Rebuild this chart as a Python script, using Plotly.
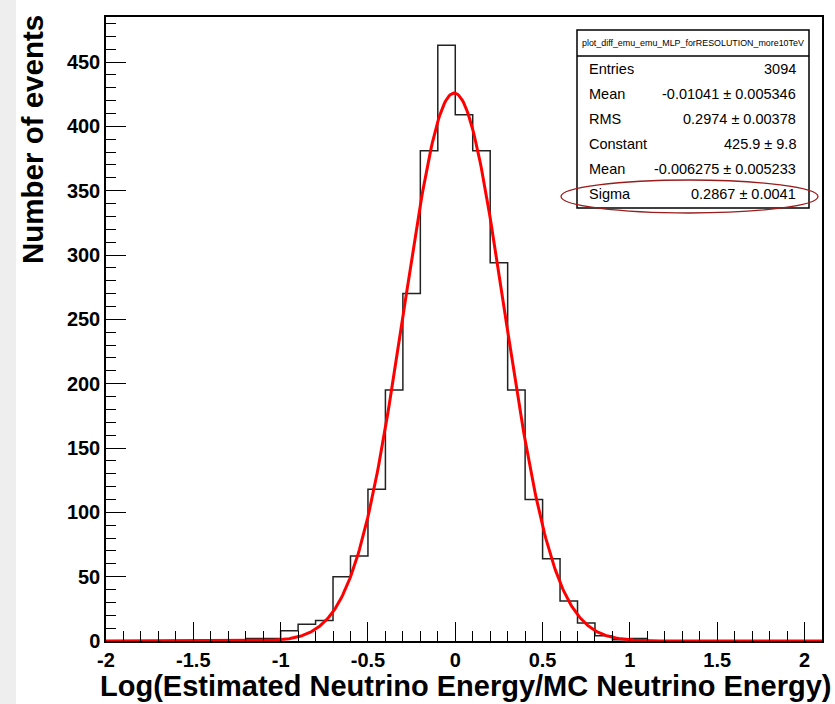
import numpy as np
import plotly.graph_objects as go

# ---- data ----
hist_xmin = -2.0
hist_xmax = 2.1
bin_width = 0.1
# lower bin edges of the non-empty bins and their counts
bin_low = [-1.2, -1.1, -1.0, -0.9, -0.8, -0.7, -0.6, -0.5, -0.4, -0.3, -0.2, -0.1,
           0.0, 0.1, 0.2, 0.3, 0.4, 0.5, 0.6, 0.7, 0.8, 0.9, 1.0]
counts = [2, 2, 8, 13, 16, 50, 66, 118, 195, 270, 381, 463,
          409, 381, 294, 195, 110, 64, 31, 14, 4, 1, 2]

# Gaussian fit parameters (from the stats box)
fit_const = 425.9
fit_mean = -0.006275
fit_sigma = 0.2867

x_tick_vals = [-2, -1.5, -1, -0.5, 0, 0.5, 1, 1.5, 2]
x_tick_text = ["-2", "-1.5", "-1", "-0.5", "0", "0.5", "1", "1.5", "2"]
y_tick_vals = [0, 50, 100, 150, 200, 250, 300, 350, 400, 450]
y_tick_text = ["0", "50", "100", "150", "200", "250", "300", "350", "400", "450"]

stats_title = "plot_diff_emu_emu_MLP_forRESOLUTION_more10TeV"
stats_labels = ["Entries", "Mean", "RMS", "Constant", "Mean", "Sigma"]
stats_values = ["3094", "-0.01041 \u00b1 0.005346", "0.2974 \u00b1 0.00378",
                "425.9 \u00b1 9.8", "-0.006275 \u00b1 0.005233", "0.2867 \u00b1 0.0041"]

x_title = "Log(Estimated Neutrino Energy/MC Neutrino Energy)"
y_title = "Number of events"

# ---- build full histogram ----
nbins = int(round((hist_xmax - hist_xmin) / bin_width))
edges = [round(hist_xmin + i * bin_width, 4) for i in range(nbins + 1)]
full = [0] * nbins
for lo, c in zip(bin_low, counts):
    idx = int(round((lo - hist_xmin) / bin_width))
    full[idx] = c
step_x = edges
step_y = full + [full[-1]]

fx = np.linspace(hist_xmin, hist_xmax, 600)
fy = fit_const * np.exp(-0.5 * ((fx - fit_mean) / fit_sigma) ** 2)

# ---- layout geometry (pixels) ----
W, H = 835, 704
L, R, T, B = 106, 13, 17, 63
PW = W - L - R
PH = H - T - B


def px(x):
    return (x - L) / PW


def py(y):
    return (H - B - y) / PH


fig = go.Figure()
fig.add_trace(go.Scatter(x=step_x, y=step_y, mode="lines", line_shape="hv",
                         line=dict(color="#222222", width=1.5), hoverinfo="skip",
                         showlegend=False))
fig.add_trace(go.Scatter(x=fx, y=fy, mode="lines",
                         line=dict(color="#ff0000", width=3), showlegend=False))

tickfont = dict(family="Liberation Sans", size=20, color="black", weight="bold")

fig.update_layout(
    width=W, height=H,
    margin=dict(l=L, r=R, t=T, b=B),
    paper_bgcolor="white", plot_bgcolor="white",
    showlegend=False,
    xaxis=dict(range=[hist_xmin, hist_xmax], showgrid=False, zeroline=False,
               showline=True, linecolor="black", linewidth=1.5, mirror=True,
               ticks="inside", ticklen=19, tickwidth=1.2, tickcolor="black",
               tickmode="array", tickvals=x_tick_vals, ticktext=x_tick_text,
               tickfont=tickfont,
               minor=dict(ticks="inside", ticklen=10, dtick=0.1, tick0=0,
                          tickcolor="black", tickwidth=1.2, showgrid=False)),
    yaxis=dict(range=[0, 485], showgrid=False, zeroline=False,
               showline=True, linecolor="black", linewidth=1.5, mirror=True,
               ticks="inside", ticklen=20, tickwidth=1.2, tickcolor="black",
               tickmode="array", tickvals=y_tick_vals, ticktext=y_tick_text,
               tickfont=tickfont,
               minor=dict(ticks="inside", ticklen=10, dtick=10, tick0=0,
                          tickcolor="black", tickwidth=1.2, showgrid=False)),
)

shapes = []
# grey strip on the left
shapes.append(dict(type="rect", xref="paper", yref="paper",
                   x0=px(-5), x1=px(16), y0=py(H + 5), y1=py(-5),
                   fillcolor="#eeeeee", line=dict(width=0), layer="below"))
# stats box
bx0, bx1, by0, by1 = 577, 809, 30, 208
shapes.append(dict(type="rect", xref="paper", yref="paper",
                   x0=px(bx0), x1=px(bx1), y0=py(by1), y1=py(by0),
                   fillcolor="white", line=dict(color="black", width=1.5)))
shapes.append(dict(type="line", xref="paper", yref="paper",
                   x0=px(bx0), x1=px(bx1), y0=py(56), y1=py(56),
                   line=dict(color="black", width=1.5)))
# ellipse around Sigma
shapes.append(dict(type="circle", xref="paper", yref="paper",
                   x0=px(561), x1=px(818), y0=py(213), y1=py(180),
                   line=dict(color="#9a1c1c", width=1.3)))
fig.update_layout(shapes=shapes)

ann = []
ann.append(dict(text=stats_title, xref="paper", yref="paper", x=px((bx0 + bx1) / 2),
                y=py(43), xanchor="center", yanchor="middle", showarrow=False,
                font=dict(family="Liberation Sans", size=8.9, color="black")))
row_y = [69, 94, 119, 144, 169, 194]
for lab, val, ry in zip(stats_labels, stats_values, row_y):
    ann.append(dict(text=lab, xref="paper", yref="paper", x=px(587), y=py(ry),
                    xanchor="left", yanchor="middle", showarrow=False,
                    font=dict(family="Liberation Sans", size=14.5, color="black")))
    ann.append(dict(text=val, xref="paper", yref="paper", x=px(798), y=py(ry),
                    xanchor="right", yanchor="middle", showarrow=False,
                    font=dict(family="Liberation Sans", size=14.5, color="black")))
ann.append(dict(text=x_title, xref="paper", yref="paper", x=px(834), y=py(686),
                xanchor="right", yanchor="middle", showarrow=False,
                font=dict(family="Liberation Sans", size=29, color="black", weight="bold")))
ann.append(dict(text=y_title, xref="paper", yref="paper", x=px(33), y=py(140),
                xanchor="center", yanchor="middle", textangle=-90, showarrow=False,
                font=dict(family="Liberation Sans", size=29.5, color="black", weight="bold")))
fig.update_layout(annotations=ann)

fig.write_html("out.html")
